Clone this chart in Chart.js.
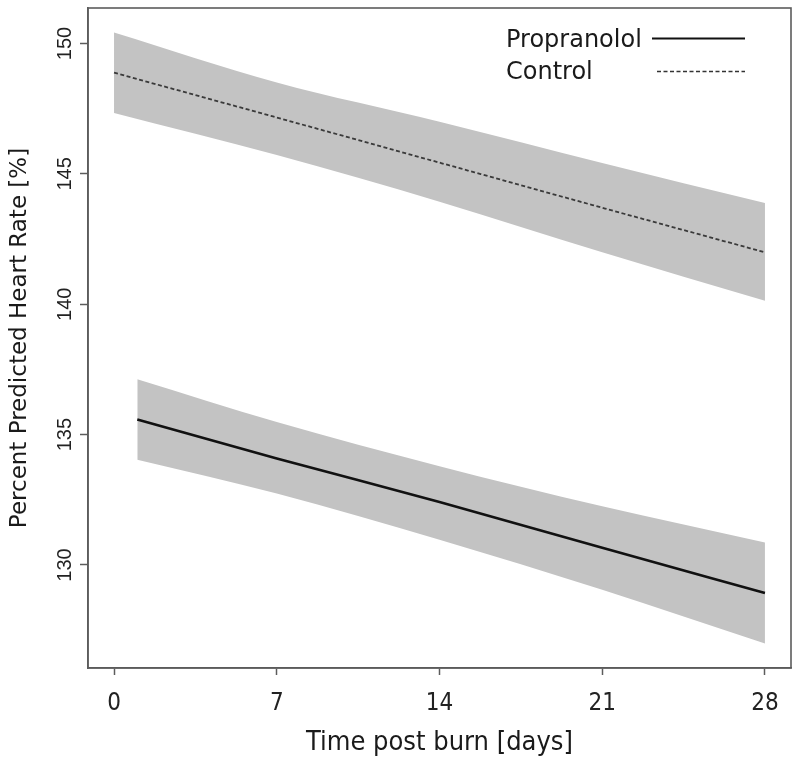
<!DOCTYPE html>
<html>
<head>
<meta charset="utf-8">
<script src="https://cdn.jsdelivr.net/npm/chart.js@4/dist/chart.umd.min.js"></script>
<style>
  html, body { margin: 0; padding: 0; background: #fff; }
  #wrap { width: 800px; height: 763px; }
</style>
</head>
<body>
<div id="wrap"><canvas id="hrChart"></canvas></div>
<script>
// values
var controlDays = [0, 7, 14, 21, 28];
var controlMean = [148.88, 147.16, 145.43, 143.70, 141.99];
var controlUpper = [150.42, 148.50, 147.00, 145.42, 143.88];
var controlLower = [147.33, 145.72, 143.93, 141.99, 140.13];

var propDays = [1, 7, 14, 21, 28];
var propMean = [135.58, 134.08, 132.42, 130.66, 128.93];
var propUpper = [137.12, 135.48, 133.79, 132.25, 130.86];
var propLower = [134.04, 132.74, 130.97, 129.05, 126.99];

var xTicks = [0, 7, 14, 21, 28];
var yTicks = [130, 135, 140, 145, 150];
var seriesNames = ['Propranolol', 'Control'];

function pts(xs, ys) {
    var out = [];
    for (var i = 0; i < xs.length; i++) out.push({x: xs[i], y: ys[i]});
    return out;
}

var bandGray = '#c3c3c3';
var boxColor = '#5c5c5c';

// R style box + rotated y tick labels + legend in the corner
var extrasPlugin = {
    id: 'extras',
    afterDraw: function(chart) {
        var ctx = chart.ctx;
        var a = chart.chartArea;
        ctx.save();
        ctx.strokeStyle = boxColor;
        ctx.lineWidth = 1.6;
        ctx.strokeRect(a.left, a.top, a.right - a.left, a.bottom - a.top);

        var ys = chart.scales.y;
        ctx.fillStyle = '#222';
        ctx.font = '20px "Liberation Sans", Arial, sans-serif';
        ctx.textAlign = 'center';
        ctx.textBaseline = 'middle';
        for (var i = 0; i < yTicks.length; i++) {
            var py = ys.getPixelForValue(yTicks[i]);
            ctx.save();
            ctx.translate(65, py);
            ctx.rotate(-Math.PI / 2);
            ctx.fillText(String(yTicks[i]), 0, 0);
            ctx.restore();
        }

        // legend
        ctx.font = '24px "DejaVu Sans", sans-serif';
        ctx.textAlign = 'left';
        ctx.textBaseline = 'alphabetic';
        ctx.fillStyle = '#1a1a1a';
        ctx.fillText(seriesNames[0], 506, 47);
        ctx.fillText(seriesNames[1], 506, 79);
        ctx.strokeStyle = '#111';
        ctx.lineWidth = 2;
        ctx.beginPath();
        ctx.moveTo(652, 38.5);
        ctx.lineTo(745, 38.5);
        ctx.stroke();
        ctx.strokeStyle = '#333';
        ctx.lineWidth = 1.5;
        ctx.setLineDash([4, 2.5]);
        ctx.beginPath();
        ctx.moveTo(657, 71.5);
        ctx.lineTo(745, 71.5);
        ctx.stroke();
        ctx.restore();
    }
};

function band(label, xs, ys, fillTo, order) {
    return {
        label: label,
        data: pts(xs, ys),
        borderWidth: 0,
        pointRadius: 0,
        cubicInterpolationMode: 'monotone',
        backgroundColor: bandGray,
        fill: fillTo,
        order: order
    };
}

var ctx = document.getElementById('hrChart');
var hrChart = new Chart(ctx, {
    type: 'line',
    data: {
        datasets: [
            {
                label: seriesNames[0],
                data: pts(propDays, propMean),
                borderColor: '#111',
                borderWidth: 2.6,
                pointRadius: 0,
                cubicInterpolationMode: 'monotone',
                fill: false,
                order: 0
            },
            {
                label: seriesNames[1],
                data: pts(controlDays, controlMean),
                borderColor: '#3a3a3a',
                borderWidth: 1.8,
                borderDash: [4, 2.5],
                pointRadius: 0,
                cubicInterpolationMode: 'monotone',
                fill: false,
                order: 1
            },
            band('prop upper', propDays, propUpper, '+1', 2),
            band('prop lower', propDays, propLower, false, 3),
            band('control upper', controlDays, controlUpper, '+1', 4),
            band('control lower', controlDays, controlLower, false, 5)
        ]
    },
    options: {
        responsive: true,
        maintainAspectRatio: false,
        animation: false,
        layout: { padding: { left: 0, top: 8, right: 9, bottom: 0 } },
        plugins: {
            legend: { display: false },
            tooltip: { enabled: false }
        },
        scales: {
            x: {
                type: 'linear',
                min: -1.12,
                max: 29.12,
                afterFit: function(scale) { scale.height = 95; },
                afterBuildTicks: function(scale) {
                    scale.ticks = xTicks.map(function(v) { return {value: v}; });
                },
                grid: {
                    drawOnChartArea: false,
                    tickLength: 7,
                    tickColor: boxColor,
                    tickWidth: 1.5
                },
                border: { color: boxColor, width: 1.6 },
                ticks: {
                    padding: 14,
                    maxRotation: 0,
                    color: '#222',
                    font: { family: '"Liberation Sans Narrow", "DejaVu Sans Condensed", sans-serif', size: 24 }
                },
                title: {
                    display: true,
                    text: 'Time post burn [days]',
                    color: '#1a1a1a',
                    padding: { top: 0, bottom: 4 },
                    font: { family: '"Liberation Sans Narrow", "DejaVu Sans Condensed", sans-serif', size: 27 }
                }
            },
            y: {
                type: 'linear',
                min: 126.05,
                max: 151.36,
                afterFit: function(scale) { scale.width = 88; },
                afterBuildTicks: function(scale) {
                    scale.ticks = yTicks.map(function(v) { return {value: v}; });
                },
                grid: {
                    drawOnChartArea: false,
                    tickLength: 8,
                    tickColor: boxColor,
                    tickWidth: 1.5
                },
                border: { color: boxColor, width: 1.6 },
                ticks: { display: false },
                title: {
                    display: true,
                    text: 'Percent Predicted Heart Rate [%]',
                    color: '#1a1a1a',
                    padding: { top: 6, bottom: 0 },
                    font: { family: '"DejaVu Sans", sans-serif', size: 23 }
                }
            }
        }
    },
    plugins: [extrasPlugin]
});
</script>
</body>
</html>
